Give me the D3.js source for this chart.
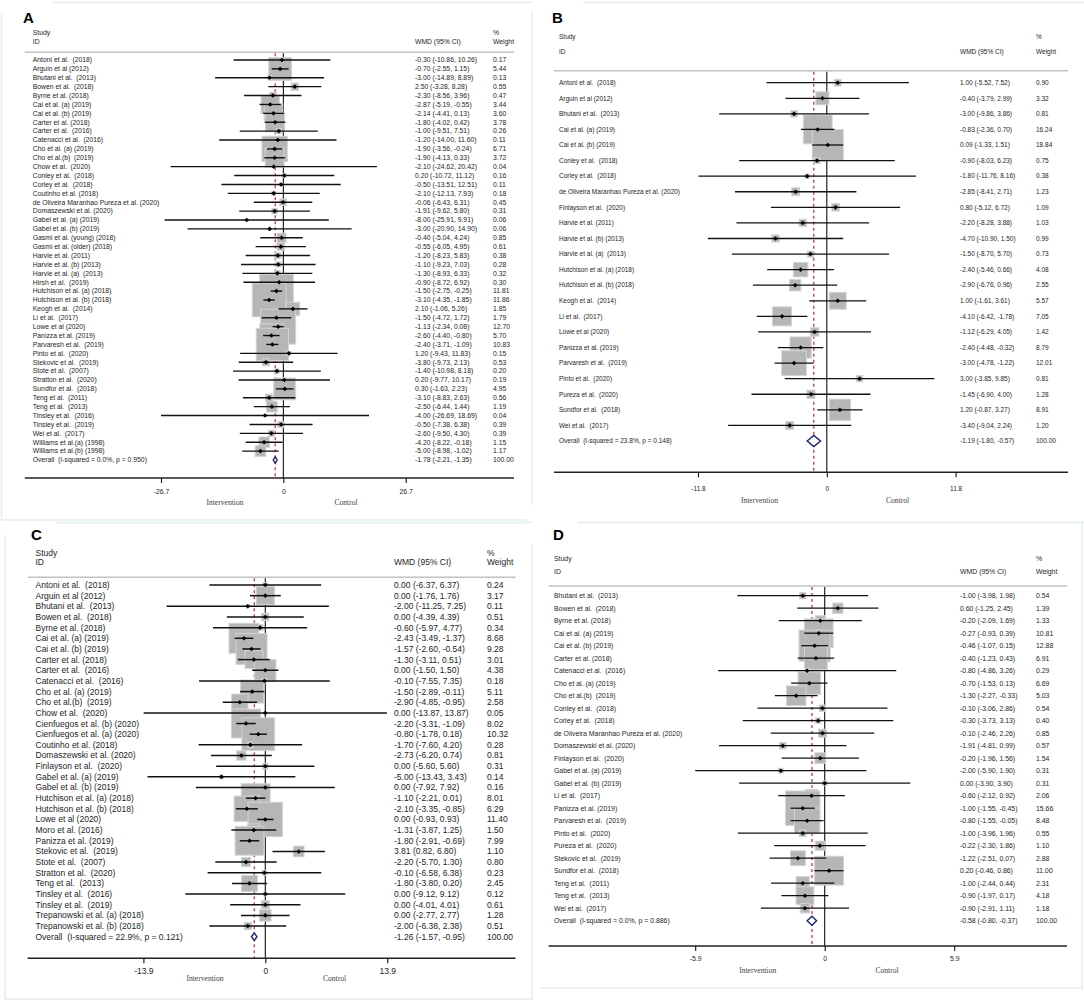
<!DOCTYPE html>
<html>
<head>
<meta charset="utf-8">
<script src="https://cdn.jsdelivr.net/npm/d3@7"></script>
<style>
body { margin: 0; background: #fff; }
svg text { white-space: pre; font-family: "Liberation Sans", Arial, sans-serif; fill: #1e1e1e; }
</style>
</head>
<body>
<svg id="chart" width="1084" height="1002"></svg>
<script>
// ---------- Panel A ----------
var studiesA = ["Antoni et al.  (2018)", "Arguin et al (2012)", "Bhutani et al.  (2013)", "Bowen et al.  (2018)",
  "Byrne et al. (2018)", "Cai et al. (a) (2019)", "Cai et al. (b) (2019)", "Carter et al. (2018)", "Carter et al.  (2016)",
  "Catenacci et al.  (2016)", "Cho et al. (a) (2019)", "Cho et al.(b)  (2019)", "Chow et al.  (2020)", "Conley et al.  (2018)",
  "Corley et al.  (2018)", "Coutinho et al. (2018)", "de Oliveira Maranhao Pureza et al. (2020)", "Domaszewski et al. (2020)",
  "Gabel et al. (a) (2019)", "Gabel et al. (b) (2019)", "Gasmi et al. (young) (2018)", "Gasmi et al. (older) (2018)",
  "Harvie et al. (2011)", "Harvie et al. (b) (2013)", "Harvie et al. (a)  (2013)", "Hirsh et al.  (2019)",
  "Hutchison et al. (a) (2018)", "Hutchison et al. (b) (2018)", "Keogh et al.  (2014)", "Li et al.  (2017)",
  "Lowe et al (2020)", "Panizza et al. (2019)", "Parvaresh et al.  (2019)", "Pinto et al.  (2020)", "Stekovic et al.  (2019)",
  "Stote et al.  (2007)", "Stratton et al.  (2020)", "Sundfor et al.  (2018)", "Teng et al.  (2011)", "Teng et al.  (2013)",
  "Tinsley et al.  (2016)", "Tinsley et al.  (2019)", "Wei et al.  (2017)", "Williams et al.(a) (1998)", "Williams et al.(b) (1998)"];
var wmdA = [-0.30, -0.70, -3.00, 2.50, -2.30, -2.87, -2.14, -1.80, -1.00, -1.20, -1.90, -1.90, -2.10, 0.20, -0.50, -2.10, -0.06, -1.91,
  -8.00, -3.00, -0.40, -0.55, -1.20, -1.10, -1.30, -0.90, -1.50, -3.10, 2.10, -1.50, -1.13, -2.60, -2.40, 1.20, -3.80, -1.40, 0.20,
  0.30, -3.10, -2.50, -4.00, -0.50, -2.60, -4.20, -5.00];
var lowA = [-10.86, -2.55, -14.89, -3.28, -8.56, -5.19, -4.41, -4.02, -9.51, -14.00, -3.56, -4.13, -24.62, -10.72, -13.51, -12.13,
  -6.43, -9.62, -25.91, -20.90, -5.04, -6.05, -8.23, -9.23, -8.93, -8.72, -2.75, -4.35, -1.06, -4.72, -2.34, -4.40, -3.71, -9.43,
  -9.73, -10.98, -9.77, -1.63, -8.83, -6.44, -26.69, -7.38, -9.50, -8.22, -8.98];
var highA = [10.26, 1.15, 8.89, 8.28, 3.96, -0.55, 0.13, 0.42, 7.51, 11.60, -0.24, 0.33, 20.42, 11.12, 12.51, 7.93, 6.31, 5.80,
  9.91, 14.90, 4.24, 4.95, 5.83, 7.03, 6.33, 6.92, -0.25, -1.85, 5.26, 1.72, 0.08, -0.80, -1.09, 11.83, 2.13, 8.18, 10.17, 2.23,
  2.63, 1.44, 18.69, 6.38, 4.30, -0.18, -1.02];
var weightA = [0.17, 5.44, 0.13, 0.55, 0.47, 3.44, 3.60, 3.78, 0.26, 0.11, 6.71, 3.72, 0.04, 0.16, 0.11, 0.18, 0.45, 0.31, 0.06,
  0.06, 0.85, 0.61, 0.38, 0.28, 0.32, 0.30, 11.81, 11.86, 1.85, 1.79, 12.70, 5.70, 10.83, 0.15, 0.53, 0.20, 0.19, 4.95, 0.56,
  1.19, 0.04, 0.39, 0.39, 1.15, 1.17];
var overallA = [-1.78, -2.21, -1.35];
var overallLabelA = "Overall  (I-squared = 0.0%, p = 0.950)";
var ticksA = [-26.7, 0, 26.7];

// ---------- Panel B ----------
var studiesB = ["Antoni et al.  (2018)", "Arguin et al (2012)", "Bhutani et al.  (2013)", "Cai et al. (a) (2019)",
  "Cai et al. (b) (2019)", "Conley et al.  (2018)", "Corley et al.  (2018)", "de Oliveira Maranhao Pureza et al. (2020)",
  "Finlayson et al.  (2020)", "Harvie et al. (2011)", "Harvie et al. (b) (2013)", "Harvie et al. (a)  (2013)",
  "Hutchison et al. (a) (2018)", "Hutchison et al. (b) (2018)", "Keogh et al.  (2014)", "Li et al.  (2017)", "Lowe et al (2020)",
  "Panizza et al. (2019)", "Parvaresh et al.  (2019)", "Pinto et al.  (2020)", "Pureza et al.  (2020)", "Sundfor et al.  (2018)",
  "Wei et al.  (2017)"];
var wmdB = [1.00, -0.40, -3.00, -0.83, 0.09, -0.90, -1.80, -2.85, 0.80, -2.20, -4.70, -1.50, -2.40, -2.90, 1.00, -4.10, -1.12,
  -2.40, -3.00, 3.00, -1.45, 1.20, -3.40];
var lowB = [-5.52, -3.79, -9.86, -2.36, -1.33, -8.03, -11.76, -8.41, -5.12, -8.28, -10.90, -8.70, -5.46, -6.76, -1.61, -6.42,
  -6.29, -4.48, -4.78, -3.85, -6.90, -0.87, -9.04];
var highB = [7.52, 2.99, 3.86, 0.70, 1.51, 6.23, 8.16, 2.71, 6.72, 3.88, 1.50, 5.70, 0.66, 0.96, 3.61, -1.78, 4.05, -0.32, -1.22,
  9.85, 4.00, 3.27, 2.24];
var weightB = [0.90, 3.32, 0.81, 16.24, 18.84, 0.75, 0.38, 1.23, 1.09, 1.03, 0.99, 0.73, 4.08, 2.55, 5.57, 7.05, 1.42, 8.79,
  12.01, 0.81, 1.28, 8.91, 1.20];
var overallB = [-1.19, -1.80, -0.57];
var overallLabelB = "Overall  (I-squared = 23.8%, p = 0.148)";
var ticksB = [-11.8, 0, 11.8];

// ---------- Panel C ----------
var studiesC = ["Antoni et al.  (2018)", "Arguin et al (2012)", "Bhutani et al.  (2013)", "Bowen et al.  (2018)",
  "Byrne et al. (2018)", "Cai et al. (a) (2019)", "Cai et al. (b) (2019)", "Carter et al. (2018)", "Carter et al.  (2016)",
  "Catenacci et al.  (2016)", "Cho et al. (a) (2019)", "Cho et al.(b)  (2019)", "Chow et al.  (2020)",
  "Cienfuegos et al. (b) (2020)", "Cienfuegos et al. (a) (2020)", "Coutinho et al. (2018)", "Domaszewski et al. (2020)",
  "Finlayson et al.  (2020)", "Gabel et al. (a) (2019)", "Gabel et al. (b) (2019)", "Hutchison et al. (a) (2018)",
  "Hutchison et al. (b) (2018)", "Lowe et al (2020)", "Moro et al. (2016)", "Panizza et al. (2019)", "Stekovic et al.  (2019)",
  "Stote et al.  (2007)", "Stratton et al.  (2020)", "Teng et al.  (2013)", "Tinsley et al.  (2016)", "Tinsley et al.  (2019)",
  "Trepanowski et al. (a) (2018)", "Trepanowski et al. (b) (2018)"];
var wmdC = [0.00, 0.00, -2.00, 0.00, -0.60, -2.43, -1.57, -1.30, 0.00, -0.10, -1.50, -2.90, 0.00, -2.20, -0.80, -1.70, -2.73,
  0.00, -5.00, 0.00, -1.10, -2.10, 0.00, -1.31, -1.80, 3.81, -2.20, -0.10, -1.80, 0.00, 0.00, 0.00, -2.00];
var lowC = [-6.37, -1.76, -11.25, -4.39, -5.97, -3.49, -2.60, -3.11, -1.50, -7.55, -2.89, -4.85, -13.87, -3.31, -1.78, -7.60,
  -6.20, -5.60, -13.43, -7.92, -2.21, -3.35, -0.93, -3.87, -2.91, 0.82, -5.70, -6.58, -3.80, -9.12, -4.01, -2.77, -6.38];
var highC = [6.37, 1.76, 7.25, 4.39, 4.77, -1.37, -0.54, 0.51, 1.50, 7.35, -0.11, -0.95, 13.87, -1.09, 0.18, 4.20, 0.74, 5.60,
  3.43, 7.92, 0.01, -0.85, 0.93, 1.25, -0.69, 6.80, 1.30, 6.38, 0.20, 9.12, 4.01, 2.77, 2.38];
var weightC = [0.24, 3.17, 0.11, 0.51, 0.34, 8.68, 9.28, 3.01, 4.38, 0.18, 5.11, 2.58, 0.05, 8.02, 10.32, 0.28, 0.81, 0.31,
  0.14, 0.16, 8.01, 6.29, 11.40, 1.50, 7.99, 1.10, 0.80, 0.23, 2.45, 0.12, 0.61, 1.28, 0.51];
var overallC = [-1.26, -1.57, -0.95];
var overallLabelC = "Overall  (I-squared = 22.9%, p = 0.121)";
var ticksC = [-13.9, 0, 13.9];

// ---------- Panel D ----------
var studiesD = ["Bhutani et al.  (2013)", "Bowen et al.  (2018)", "Byrne et al. (2018)", "Cai et al. (a) (2019)",
  "Cai et al. (b) (2019)", "Carter et al. (2018)", "Catenacci et al.  (2016)", "Cho et al. (a) (2019)", "Cho et al.(b)  (2019)",
  "Conley et al.  (2018)", "Corley et al.  (2018)", "de Oliveira Maranhao Pureza et al. (2020)", "Domaszewski et al. (2020)",
  "Finlayson et al.  (2020)", "Gabel et al. (a) (2019)", "Gabel et al. (b) (2019)", "Li et al.  (2017)", "Panizza et al. (2019)",
  "Parvaresh et al.  (2019)", "Pinto et al.  (2020)", "Pureza et al.  (2020)", "Stekovic et al.  (2019)", "Sundfor et al.  (2018)",
  "Teng et al.  (2011)", "Teng et al.  (2013)", "Wei et al.  (2017)"];
var wmdD = [-1.00, 0.60, -0.20, -0.27, -0.46, -0.40, -0.80, -0.70, -1.30, -0.10, -0.30, -0.10, -1.91, -0.20, -2.00, 0.00,
  -0.60, -1.00, -0.80, -1.00, -0.22, -1.22, 0.20, -1.00, -0.90, -0.90];
var lowD = [-3.98, -1.25, -2.09, -0.93, -1.07, -1.23, -4.86, -1.53, -2.27, -3.06, -3.73, -2.46, -4.81, -1.96, -5.90, -3.90,
  -2.12, -1.55, -1.55, -3.96, -2.30, -2.51, -0.46, -2.44, -1.97, -2.91];
var highD = [1.98, 2.45, 1.69, 0.39, 0.15, 0.43, 3.26, 0.13, -0.33, 2.86, 3.13, 2.26, 0.99, 1.56, 1.90, 3.90, 0.92, -0.45,
  -0.05, 1.96, 1.86, 0.07, 0.86, 0.44, 0.17, 1.11];
var weightD = [0.54, 1.39, 1.33, 10.81, 12.88, 6.91, 0.29, 6.69, 5.03, 0.54, 0.40, 0.85, 0.57, 1.54, 0.31, 0.31, 2.06, 15.66,
  8.48, 0.55, 1.10, 2.88, 11.00, 2.31, 4.18, 1.18];
var overallD = [-0.58, -0.80, -0.37];
var overallLabelD = "Overall  (I-squared = 0.0%, p = 0.886)";
var ticksD = [-5.9, 0, 5.9];

var svg = d3.select("#chart");

// faint panel frames
var frameColor = "#e3edf1";
var frames = [
  [[53, 2.5], [532, 2.5]], [[583, 2.5], [1084, 2.5]],
  [[1.5, 14], [1.5, 520], [526, 520]], [[532, 12], [532, 505]],
  [[57, 522.5], [532, 522.5]], [[578, 522.5], [1084, 522.5]],
  [[5, 535], [5, 999], [532, 999], [532, 545]],
  [[540, 988], [1082, 988], [1082, 522.5]]
];
frames.forEach(function(f) {
  svg.append("path")
    .attr("d", d3.line()(f))
    .attr("fill", "none")
    .attr("stroke", frameColor)
    .attr("stroke-width", 1.5);
});

function ciText(e, l, h) {
  return e.toFixed(2) + " (" + l.toFixed(2) + ", " + h.toFixed(2) + ")";
}

function drawForest(p) {
  var g = svg.append("g");
  var n = p.names.length;
  var fs = p.font;
  var x = d3.scaleLinear().domain([p.ticks[0], p.ticks[p.ticks.length - 1]]).range(p.xRange);
  var y = d3.scalePoint().domain(d3.range(n + 1)).range([p.row0, p.rowN]);
  var step = y.step();

  g.append("text").attr("x", p.letterX).attr("y", p.letterY)
    .attr("font-size", 15).attr("font-weight", "bold").style("fill", "#000").text(p.letter);

  // column headers
  g.append("text").attr("x", p.studyX).attr("y", p.headY1).attr("font-size", fs).text("Study");
  g.append("text").attr("x", p.studyX).attr("y", p.headY2).attr("font-size", fs).text("ID");
  g.append("text").attr("x", p.ciX).attr("y", p.headY2).attr("font-size", fs).text("WMD (95% CI)");
  g.append("text").attr("x", p.wtX).attr("y", p.headY1).attr("font-size", fs).text("%");
  g.append("text").attr("x", p.wtX).attr("y", p.headY2).attr("font-size", fs).text("Weight");

  g.append("line")
    .attr("x1", p.lineX[0]).attr("x2", p.lineX[1])
    .attr("y1", p.headLine).attr("y2", p.headLine)
    .attr("stroke", "#c2c2c2").attr("stroke-width", 1.4);

  // no-effect line and pooled estimate line
  g.append("line")
    .attr("x1", x(0)).attr("x2", x(0)).attr("y1", p.headLine + 1).attr("y2", p.axisY)
    .attr("stroke", "#111").attr("stroke-width", 1.1);
  g.append("line")
    .attr("x1", x(p.overall[0])).attr("x2", x(p.overall[0])).attr("y1", p.headLine + 1).attr("y2", p.axisY)
    .attr("stroke", "#b3303c").attr("stroke-width", 1.2).attr("stroke-dasharray", "3,3");

  var idx = d3.range(n);

  // weight boxes
  g.selectAll("rect.box").data(idx).join("rect")
    .attr("class", "box")
    .attr("x", function(i) { return x(p.est[i]) - p.boxK * Math.sqrt(p.weight[i]) / 2; })
    .attr("y", function(i) { return y(i) - p.boxK * Math.sqrt(p.weight[i]) / 2; })
    .attr("width", function(i) { return p.boxK * Math.sqrt(p.weight[i]); })
    .attr("height", function(i) { return p.boxK * Math.sqrt(p.weight[i]); })
    .attr("fill", "#b6b6b6").attr("stroke", "#d4d4d4").attr("stroke-width", 1);

  // confidence intervals
  g.selectAll("line.ci").data(idx).join("line")
    .attr("class", "ci")
    .attr("x1", function(i) { return x(p.low[i]); })
    .attr("x2", function(i) { return x(p.high[i]); })
    .attr("y1", function(i) { return y(i); })
    .attr("y2", function(i) { return y(i); })
    .attr("stroke", "#111").attr("stroke-width", p.ciW);

  // point estimates
  var m = 2.3;
  g.selectAll("path.pt").data(idx).join("path")
    .attr("class", "pt")
    .attr("d", function(i) {
      var cx = x(p.est[i]), cy = y(i);
      return "M" + (cx - m) + "," + cy + "L" + cx + "," + (cy - m) + "L" + (cx + m) + "," + cy + "L" + cx + "," + (cy + m) + "Z";
    })
    .attr("fill", "#000");

  // study labels and values
  g.selectAll("text.name").data(idx).join("text")
    .attr("class", "name").attr("x", p.studyX).attr("y", function(i) { return y(i); })
    .attr("dy", "0.35em").attr("font-size", fs).text(function(i) { return p.names[i]; });
  g.selectAll("text.ci").data(idx).join("text")
    .attr("class", "ci").attr("x", p.ciX).attr("y", function(i) { return y(i); })
    .attr("dy", "0.35em").attr("font-size", fs)
    .text(function(i) { return ciText(p.est[i], p.low[i], p.high[i]); });
  g.selectAll("text.wt").data(idx).join("text")
    .attr("class", "wt").attr("x", p.wtX).attr("y", function(i) { return y(i); })
    .attr("dy", "0.35em").attr("font-size", fs).text(function(i) { return p.weight[i].toFixed(2); });

  // overall
  var oy = y(n), hh = 0.36 * step;
  var o = p.overall;
  g.append("path")
    .attr("d", "M" + x(o[1]) + "," + oy + "L" + x(o[0]) + "," + (oy - hh) + "L" + x(o[2]) + "," + oy +
      "L" + x(o[0]) + "," + (oy + hh) + "Z")
    .attr("fill", "#fff").attr("stroke", "#1c2376").attr("stroke-width", 1.4);
  g.append("text").attr("x", p.studyX).attr("y", oy).attr("dy", "0.35em").attr("font-size", fs).text(p.overallLabel);
  g.append("text").attr("x", p.ciX).attr("y", oy).attr("dy", "0.35em").attr("font-size", fs).text(ciText(o[0], o[1], o[2]));
  g.append("text").attr("x", p.wtX).attr("y", oy).attr("dy", "0.35em").attr("font-size", fs).text("100.00");

  // x axis
  g.append("line")
    .attr("x1", p.lineX[0]).attr("x2", p.lineX[1]).attr("y1", p.axisY).attr("y2", p.axisY)
    .attr("stroke", "#222").attr("stroke-width", 1.4);
  var ax = g.append("g").attr("transform", "translate(0," + p.axisY + ")")
    .call(d3.axisBottom(x).tickValues(p.ticks).tickFormat(function(d) { return String(d); })
      .tickSize(5).tickSizeOuter(0).tickPadding(p.tickLabelY - p.axisY - 5 - 0.71 * fs));
  ax.select(".domain").remove();
  ax.selectAll(".tick line").attr("stroke", "#111").attr("stroke-width", 1.1);
  ax.selectAll(".tick text").attr("font-size", fs).attr("font-family", null).style("fill", "#1e1e1e");

  g.append("text").attr("x", p.interX).attr("y", p.subY).attr("text-anchor", "middle")
    .attr("font-size", 7.6).style("font-family", "'Liberation Serif', 'Times New Roman', serif").style("fill", "#444")
    .text("Intervention");
  g.append("text").attr("x", p.controlX).attr("y", p.subY).attr("text-anchor", "middle")
    .attr("font-size", 7.6).style("font-family", "'Liberation Serif', 'Times New Roman', serif").style("fill", "#444")
    .text("Control");
}

drawForest({
  letter: "A", names: studiesA, est: wmdA, low: lowA, high: highA, weight: weightA,
  overall: overallA, overallLabel: overallLabelA, ticks: ticksA,
  letterX: 23, letterY: 22.5, studyX: 32.8, ciX: 415, wtX: 493, headY1: 35, headY2: 44.3,
  headLine: 52.3, lineX: [24.8, 514], row0: 60, rowN: 460, axisY: 478, tickLabelY: 494,
  subY: 505, interX: 225, controlX: 346, xRange: [161, 405.7], font: 6.8, boxK: 9.8, ciW: 1.4
});
drawForest({
  letter: "B", names: studiesB, est: wmdB, low: lowB, high: highB, weight: weightB,
  overall: overallB, overallLabel: overallLabelB, ticks: ticksB,
  letterX: 552, letterY: 22.5, studyX: 559, ciX: 960, wtX: 1036, headY1: 38.5, headY2: 54,
  headLine: 70.7, lineX: [554, 1068], row0: 82.7, rowN: 441, axisY: 472.3, tickLabelY: 491,
  subY: 503, interX: 759.5, controlX: 897.6, xRange: [698, 955.6], font: 6.5, boxK: 7.15, ciW: 1.3
});
drawForest({
  letter: "C", names: studiesC, est: wmdC, low: lowC, high: highC, weight: weightC,
  overall: overallC, overallLabel: overallLabelC, ticks: ticksC,
  letterX: 31, letterY: 540, studyX: 35.5, ciX: 394, wtX: 487, headY1: 555.5, headY2: 564.5,
  headLine: 577.3, lineX: [27.6, 515.5], row0: 585, rowN: 936.7, axisY: 958.3, tickLabelY: 974,
  subY: 981, interX: 205, controlX: 334.5, xRange: [143.4, 387.2], font: 8.5, boxK: 10.2, ciW: 1.5
});
drawForest({
  letter: "D", names: studiesD, est: wmdD, low: lowD, high: highD, weight: weightD,
  overall: overallD, overallLabel: overallLabelD, ticks: ticksD,
  letterX: 553, letterY: 539.5, studyX: 554, ciX: 960, wtX: 1036, headY1: 561, headY2: 573.5,
  headLine: 586, lineX: [548.7, 1067], row0: 595.7, rowN: 920.7, axisY: 946, tickLabelY: 961,
  subY: 973, interX: 757.7, controlX: 887, xRange: [695.2, 954.2], font: 6.9, boxK: 8.7, ciW: 1.3
});
</script>
</body>
</html>
